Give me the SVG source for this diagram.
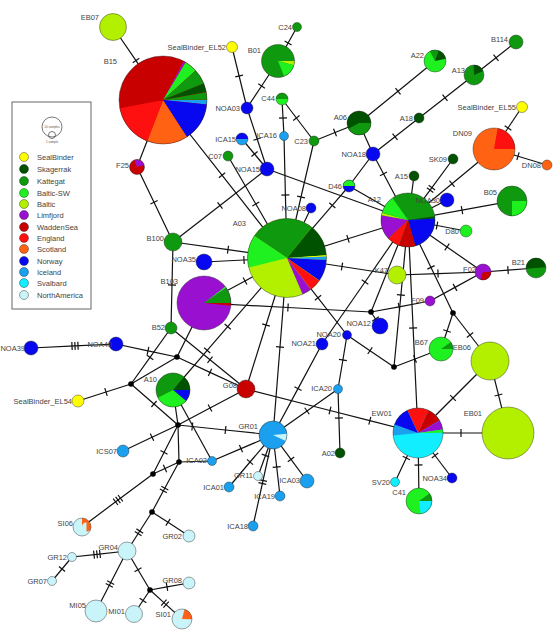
<svg xmlns="http://www.w3.org/2000/svg" width="560" height="640" viewBox="0 0 560 640">
<style>
.e{fill:none;stroke:#111;stroke-width:1.2}
.tk{fill:none;stroke:#111;stroke-width:1.2}
.o{stroke:#222;stroke-opacity:.6;stroke-width:.7}
.ol{fill:none;stroke:#222;stroke-opacity:.6;stroke-width:.7}
.sl{fill:none}
.j{fill:#000}
text{font-family:"Liberation Sans",Arial,sans-serif;font-size:7.5px;fill:#444}
.l{text-anchor:end}
.f-sb{fill:#ffff00}.f-sk{fill:#005200}.f-ka{fill:#0f990f}.f-bs{fill:#1ff01f}.f-ba{fill:#b2f000}.f-li{fill:#9a10d0}.f-wa{fill:#c80000}.f-en{fill:#ff1010}.f-sc{fill:#ff6212}.f-no{fill:#0808f0}.f-ic{fill:#1aa0ee}.f-sv{fill:#10eeff}.f-na{fill:#c8f4fa}
.s-sb{stroke:#ffff00}.s-sk{stroke:#005200}.s-ka{stroke:#0f990f}.s-bs{stroke:#1ff01f}.s-ba{stroke:#b2f000}.s-li{stroke:#9a10d0}.s-wa{stroke:#c80000}.s-en{stroke:#ff1010}.s-sc{stroke:#ff6212}.s-no{stroke:#0808f0}.s-ic{stroke:#1aa0ee}.s-sv{stroke:#10eeff}.s-na{stroke:#c8f4fa}
.box{fill:#fff;stroke:#666;stroke-width:1}
.sz{fill:none;stroke:#555;stroke-width:.8}
.tiny{font-size:3px;text-anchor:middle;fill:#555}
</style>
<defs>
<marker id="t1" markerUnits="userSpaceOnUse" markerWidth="12" markerHeight="12" refX="6" refY="6" orient="auto"><path class="tk" d="M6,2V10"/></marker>
<marker id="t2" markerUnits="userSpaceOnUse" markerWidth="12" markerHeight="12" refX="6" refY="6" orient="auto"><path class="tk" d="M4.5,2V10M7.5,2V10"/></marker>
<marker id="t3" markerUnits="userSpaceOnUse" markerWidth="12" markerHeight="12" refX="6" refY="6" orient="auto"><path class="tk" d="M3,2V10M6,2V10M9,2V10"/></marker>
</defs>
<rect width="560" height="640" fill="#fff"/>

<g id="connectors" class="e">
<path d="M113,27 L136,60.6 L163,100" marker-mid="url(#t1)"/>
<path d="M163,100 L137,167"/>
<path d="M137,167 L154,202.3 L173,242" marker-mid="url(#t1)"/>
<path d="M163,100 L222,175.2 L287,258" marker-mid="url(#t1)"/>
<path d="M232,47 L239.1,76 L247,108" marker-mid="url(#t1)"/>
<path d="M278,61 L261.6,86 L247,108" marker-mid="url(#t1)"/>
<path d="M297,27 L288.1,43 L278,61" marker-mid="url(#t1)"/>
<path d="M247,108 L257.2,139 L267,169" marker-mid="url(#t1)"/>
<path d="M242,139 L254.5,154 L267,169" marker-mid="url(#t1)"/>
<path d="M282,99 L283,118 L284,136" marker-mid="url(#t1)"/>
<path d="M284,136 L285.4,195 L287,258" marker-mid="url(#t1)"/>
<path d="M282,99 L296.4,118 L314,141" marker-mid="url(#t1)"/>
<path d="M314,141 L335,132.5 L359,123" marker-mid="url(#t1)"/>
<path d="M314,141 L301,197 L287,258" marker-mid="url(#t1)"/>
<path d="M228,156 L255.8,204 L287,258" marker-mid="url(#t1)"/>
<path d="M267,169 L220,205.5 L173,242" marker-mid="url(#t1)"/>
<path d="M267,169 L408,220"/>
<path d="M359,123 L373,154"/>
<path d="M435,61 L398,91.2 L359,123" marker-mid="url(#t1)"/>
<path d="M373,154 L395,136.8 L419,118" marker-mid="url(#t1)"/>
<path d="M419,118 L445,97.7 L474,75" marker-mid="url(#t1)"/>
<path d="M474,75 L496,57.8 L516,42" marker-mid="url(#t1)"/>
<path d="M373,154 L383.5,173.8 L408,220" marker-mid="url(#t1)"/>
<path d="M373,154 L349,186"/>
<path d="M349,186 L332.3,205.4 L287,258" marker-mid="url(#t1)"/>
<path d="M349,186 L408,220"/>
<path d="M311,208 L287,258"/>
<path d="M414,176 L408,220"/>
<path d="M453,159 L431,188.9 L408,220" marker-mid="url(#t2)"/>
<path d="M494,149 L452,183.7 L408,220" marker-mid="url(#t1)"/>
<path d="M522,107 L508,128 L494,149" marker-mid="url(#t1)"/>
<path d="M494,149 L518,156.2 L547,165" marker-mid="url(#t1)"/>
<path d="M447,200 L408,220"/>
<path d="M512,201 L462,210.1 L408,220" marker-mid="url(#t1)"/>
<path d="M466,231 L437,225.5 L408,220" marker-mid="url(#t1)"/>
<path d="M408,220 L447,247 L483,272" marker-mid="url(#t1)"/>
<path d="M287,258 L348,238.8 L408,220" marker-mid="url(#t1)"/>
<path d="M287,258 L342,266.5 L397,275" marker-mid="url(#t1)"/>
<path d="M397,275 L438,273.6 L483,272" marker-mid="url(#t1)"/>
<path d="M483,272 L508,270.1 L536,268" marker-mid="url(#t1)"/>
<path d="M483,272 L455,287.4 L430,301" marker-mid="url(#t1)"/>
<path d="M430,301 L399,306.8 L371,312" marker-mid="url(#t1)"/>
<path d="M204,303 L288,307.5 L371,312" marker-mid="url(#t1)"/>
<path d="M371,312 L375.5,319 L380,326" marker-mid="url(#t1)"/>
<path d="M408,220 L371,312"/>
<path d="M408,220 L400.9,295 L394,367" marker-mid="url(#t1)"/>
<path d="M408,220 L413.1,328 L418,433" marker-mid="url(#t1)"/>
<path d="M408,220 L431,267.4 L453,313" marker-mid="url(#t1)"/>
<path d="M394,367 L415,359 L441,349" marker-mid="url(#t1)"/>
<path d="M453,313 L447,331 L441,349" marker-mid="url(#t1)"/>
<path d="M453,313 L470,335 L490,361" marker-mid="url(#t1)"/>
<path d="M490,361 L498.5,395 L508,433" marker-mid="url(#t1)"/>
<path d="M418,433 L453,398 L490,361" marker-mid="url(#t1)"/>
<path d="M418,433 L461,433 L508,433" marker-mid="url(#t1)"/>
<path d="M418,433 L406.3,458 L395,482" marker-mid="url(#t1)"/>
<path d="M418,433 L418.5,465 L419,501" marker-mid="url(#t1)"/>
<path d="M418,433 L435,455.5 L452,478" marker-mid="url(#t1)"/>
<path d="M287,258 L318,297.8 L347,335" marker-mid="url(#t1)"/>
<path d="M347,335 L370,350.7 L394,367" marker-mid="url(#t1)"/>
<path d="M347,335 L342.9,360 L338,389" marker-mid="url(#t1)"/>
<path d="M338,389 L338.9,418 L340,453" marker-mid="url(#t1)"/>
<path d="M338,389 L307,411 L273,435" marker-mid="url(#t1)"/>
<path d="M322,344 L298,388.6 L273,435" marker-mid="url(#t1)"/>
<path d="M322,344 L365,282 L408,220" marker-mid="url(#t1)"/>
<path d="M246,389 L330,410.5 L369.8,420.7 L418,433" marker-mid="url(#t1)"/>
<path d="M287,258 L266,325 L246,389" marker-mid="url(#t1)"/>
<path d="M287,258 L280,347 L273,435" marker-mid="url(#t1)"/>
<path d="M287,258 L227.7,326.6 L207.2,350.4 L173,390" marker-mid="url(#t1)"/>
<path d="M173,242 L228,249.7 L287,258" marker-mid="url(#t1)"/>
<path d="M204,262 L244,260 L287,258" marker-mid="url(#t1)"/>
<path d="M204,303 L245,281 L287,258" marker-mid="url(#t1)"/>
<path d="M173,242 L172,285 L171,328" marker-mid="url(#t1)"/>
<path d="M171,328 L150,357.4 L131,384" marker-mid="url(#t1)"/>
<path d="M116,344 L148,350.8 L177,357" marker-mid="url(#t1)"/>
<path d="M31,348 L75,345.9 L116,344" marker-mid="url(#t3)"/>
<path d="M177,357 L131,384"/>
<path d="M177,357 L210,372.4 L246,389" marker-mid="url(#t1)"/>
<path d="M177,357 L204,303"/>
<path d="M171,328 L210,359.7 L246,389" marker-mid="url(#t1)"/>
<path d="M131,384 L106,392 L78,401" marker-mid="url(#t1)"/>
<path d="M131,384 L154,404 L178,425" marker-mid="url(#t1)"/>
<path d="M173,390 L178,425"/>
<path d="M178,425 L152,437.2 L123,451" marker-mid="url(#t1)"/>
<path d="M178,425 L192.3,426.5 L225.5,430 L273,435" marker-mid="url(#t1)"/>
<path d="M178,425 L210,408 L246,389" marker-mid="url(#t1)"/>
<path d="M178,425 L179,462"/>
<path d="M178,425 L164,452.4 L153,474" marker-mid="url(#t1)"/>
<path d="M153,474 L165,468.5 L179,462" marker-mid="url(#t1)"/>
<path d="M179,462 L212,461"/>
<path d="M212,461 L241,448.6 L273,435" marker-mid="url(#t1)"/>
<path d="M173,390 L212,461"/>
<path d="M153,474 L118,500 L82,527" marker-mid="url(#t3)"/>
<path d="M179,462 L164.1,489.5 L152,512" marker-mid="url(#t2)"/>
<path d="M152,512 L168,522.3 L189,536" marker-mid="url(#t1)"/>
<path d="M152,512 L139,532.3 L127,551" marker-mid="url(#t2)"/>
<path d="M127,551 L97,554.3 L72,557" marker-mid="url(#t3)"/>
<path d="M72,557 L62,569 L52,581" marker-mid="url(#t1)"/>
<path d="M127,551 L110,584 L96,611" marker-mid="url(#t2)"/>
<path d="M127,551 L138,569.7 L150,590" marker-mid="url(#t1)"/>
<path d="M150,590 L143,600.5 L134,614" marker-mid="url(#t1)"/>
<path d="M150,590 L167,586.9 L189,583" marker-mid="url(#t1)"/>
<path d="M150,590 L165,603.6 L182,619" marker-mid="url(#t2)"/>
<path d="M273,435 L250,462 L229,487" marker-mid="url(#t1)"/>
<path d="M273,435 L265.5,455.5 L258,476" marker-mid="url(#t1)"/>
<path d="M273,435 L276.7,467 L280,496" marker-mid="url(#t1)"/>
<path d="M273,435 L262.7,482 L253,526" marker-mid="url(#t2)"/>
<path d="M273,435 L291,459.4 L307,481" marker-mid="url(#t1)"/>
</g>

<g id="junctions">
<circle class="j" cx="371" cy="312" r="2.8"/>
<circle class="j" cx="394" cy="367" r="2.8"/>
<circle class="j" cx="453" cy="313" r="2.8"/>
<circle class="j" cx="177" cy="357" r="2.8"/>
<circle class="j" cx="131" cy="384" r="2.8"/>
<circle class="j" cx="178" cy="425" r="2.8"/>
<circle class="j" cx="179" cy="462" r="2.8"/>
<circle class="j" cx="153" cy="474" r="2.8"/>
<circle class="j" cx="152" cy="512" r="2.8"/>
<circle class="j" cx="150" cy="590" r="2.8"/>
</g>

<g id="legend">
<rect class="box" x="12" y="102" width="79" height="207"/>
<circle class="sz" cx="52" cy="127" r="10"/>
<circle class="sz" cx="52" cy="135" r="3.5"/>
<text class="tiny" x="52" y="128">10 samples</text>
<text class="tiny" x="52" y="143">1 sample</text>
<circle class="o f-sb" cx="24" cy="157" r="4.5"/><text x="37" y="160">SealBinder</text>
<circle class="o f-sk" cx="24" cy="169" r="4.5"/><text x="37" y="172">Skagerrak</text>
<circle class="o f-ka" cx="24" cy="181" r="4.5"/><text x="37" y="184">Kattegat</text>
<circle class="o f-bs" cx="24" cy="193" r="4.5"/><text x="37" y="196">Baltic-SW</text>
<circle class="o f-ba" cx="24" cy="204" r="4.5"/><text x="37" y="207">Baltic</text>
<circle class="o f-li" cx="24" cy="215" r="4.5"/><text x="37" y="218">Limfjord</text>
<circle class="o f-wa" cx="24" cy="227" r="4.5"/><text x="37" y="230">WaddenSea</text>
<circle class="o f-en" cx="24" cy="238" r="4.5"/><text x="37" y="241">England</text>
<circle class="o f-sc" cx="24" cy="249" r="4.5"/><text x="37" y="252">Scotland</text>
<circle class="o f-no" cx="24" cy="261" r="4.5"/><text x="37" y="264">Norway</text>
<circle class="o f-ic" cx="24" cy="272" r="4.5"/><text x="37" y="275">Iceland</text>
<circle class="o f-sv" cx="24" cy="283" r="4.5"/><text x="37" y="286">Svalbard</text>
<circle class="o f-na" cx="24" cy="295" r="4.5"/><text x="37" y="298">NorthAmerica</text>
</g>

<g id="B15">
<circle class="f-wa" cx="163" cy="100" r="44"/>
<circle class="sl s-li" cx="163" cy="100" r="22" stroke-width="44" pathLength="360" stroke-dasharray="3 360" transform="rotate(298 163 100)"/>
<circle class="sl s-bs" cx="163" cy="100" r="22" stroke-width="44" pathLength="360" stroke-dasharray="17 360" transform="rotate(301 163 100)"/>
<circle class="sl s-ka" cx="163" cy="100" r="22" stroke-width="44" pathLength="360" stroke-dasharray="20 360" transform="rotate(318 163 100)"/>
<circle class="sl s-sk" cx="163" cy="100" r="22" stroke-width="44" pathLength="360" stroke-dasharray="12 360" transform="rotate(338 163 100)"/>
<circle class="sl s-ka" cx="163" cy="100" r="22" stroke-width="44" pathLength="360" stroke-dasharray="10 360" transform="rotate(350 163 100)"/>
<circle class="sl s-ic" cx="163" cy="100" r="22" stroke-width="44" pathLength="360" stroke-dasharray="6 360"/>
<circle class="sl s-no" cx="163" cy="100" r="22" stroke-width="44" pathLength="360" stroke-dasharray="51 360" transform="rotate(6 163 100)"/>
<circle class="sl s-sc" cx="163" cy="100" r="22" stroke-width="44" pathLength="360" stroke-dasharray="54 360" transform="rotate(57 163 100)"/>
<circle class="sl s-en" cx="163" cy="100" r="22" stroke-width="44" pathLength="360" stroke-dasharray="58 360" transform="rotate(111 163 100)"/>
<circle class="ol" cx="163" cy="100" r="44"/>
<text class="l" x="117" y="64">B15</text>
</g>

<g id="A03">
<circle class="f-ba" cx="287" cy="258" r="39.5"/>
<circle class="sl s-ka" cx="287" cy="258" r="19.75" stroke-width="39.5" pathLength="360" stroke-dasharray="95 360" transform="rotate(214 287 258)"/>
<circle class="sl s-sk" cx="287" cy="258" r="19.75" stroke-width="39.5" pathLength="360" stroke-dasharray="47 360" transform="rotate(309 287 258)"/>
<circle class="sl s-sb" cx="287" cy="258" r="19.75" stroke-width="39.5" pathLength="360" stroke-dasharray="2 360" transform="rotate(356 287 258)"/>
<circle class="sl s-ic" cx="287" cy="258" r="19.75" stroke-width="39.5" pathLength="360" stroke-dasharray="5 360" transform="rotate(358 287 258)"/>
<circle class="sl s-no" cx="287" cy="258" r="19.75" stroke-width="39.5" pathLength="360" stroke-dasharray="32 360" transform="rotate(3 287 258)"/>
<circle class="sl s-en" cx="287" cy="258" r="19.75" stroke-width="39.5" pathLength="360" stroke-dasharray="18 360" transform="rotate(35 287 258)"/>
<circle class="sl s-li" cx="287" cy="258" r="19.75" stroke-width="39.5" pathLength="360" stroke-dasharray="14 360" transform="rotate(53 287 258)"/>
<circle class="sl s-bs" cx="287" cy="258" r="19.75" stroke-width="39.5" pathLength="360" stroke-dasharray="48 360" transform="rotate(166 287 258)"/>
<circle class="ol" cx="287" cy="258" r="39.5"/>
<text class="l" x="246" y="226">A03</text>
</g>

<g id="A12">
<circle class="f-ka" cx="408" cy="220" r="27"/>
<circle class="sl s-li" cx="408" cy="220" r="13.5" stroke-width="27" pathLength="360" stroke-dasharray="53 360" transform="rotate(137 408 220)"/>
<circle class="sl s-ba" cx="408" cy="220" r="13.5" stroke-width="27" pathLength="360" stroke-dasharray="6 360" transform="rotate(190 408 220)"/>
<circle class="sl s-bs" cx="408" cy="220" r="13.5" stroke-width="27" pathLength="360" stroke-dasharray="39 360" transform="rotate(196 408 220)"/>
<circle class="sl s-sk" cx="408" cy="220" r="13.5" stroke-width="27" pathLength="360" stroke-dasharray="5 360" transform="rotate(352 408 220)"/>
<circle class="sl s-no" cx="408" cy="220" r="13.5" stroke-width="27" pathLength="360" stroke-dasharray="77 360" transform="rotate(357 408 220)"/>
<circle class="sl s-wa" cx="408" cy="220" r="13.5" stroke-width="27" pathLength="360" stroke-dasharray="36 360" transform="rotate(74 408 220)"/>
<circle class="sl s-en" cx="408" cy="220" r="13.5" stroke-width="27" pathLength="360" stroke-dasharray="27 360" transform="rotate(110 408 220)"/>
<circle class="ol" cx="408" cy="220" r="27"/>
<text class="l" x="381" y="202">A12</text>
</g>

<g id="B103">
<circle class="f-li" cx="204" cy="303" r="27"/>
<circle class="sl s-bs" cx="204" cy="303" r="13.5" stroke-width="27" pathLength="360" stroke-dasharray="4 360" transform="rotate(322 204 303)"/>
<circle class="sl s-ka" cx="204" cy="303" r="13.5" stroke-width="27" pathLength="360" stroke-dasharray="34 360" transform="rotate(326 204 303)"/>
<circle class="sl s-wa" cx="204" cy="303" r="13.5" stroke-width="27" pathLength="360" stroke-dasharray="6 360"/>
<circle class="ol" cx="204" cy="303" r="27"/>
<text class="l" x="178" y="284">B103</text>
</g>

<g id="EW01">
<circle class="f-sv" cx="418" cy="433" r="25"/>
<circle class="sl s-ic" cx="418" cy="433" r="12.5" stroke-width="25" pathLength="360" stroke-dasharray="26 360" transform="rotate(174 418 433)"/>
<circle class="sl s-no" cx="418" cy="433" r="12.5" stroke-width="25" pathLength="360" stroke-dasharray="45 360" transform="rotate(200 418 433)"/>
<circle class="sl s-en" cx="418" cy="433" r="12.5" stroke-width="25" pathLength="360" stroke-dasharray="50 360" transform="rotate(245 418 433)"/>
<circle class="sl s-wa" cx="418" cy="433" r="12.5" stroke-width="25" pathLength="360" stroke-dasharray="35 360" transform="rotate(295 418 433)"/>
<circle class="sl s-li" cx="418" cy="433" r="12.5" stroke-width="25" pathLength="360" stroke-dasharray="22 360" transform="rotate(330 418 433)"/>
<circle class="sl s-bs" cx="418" cy="433" r="12.5" stroke-width="25" pathLength="360" stroke-dasharray="8 360" transform="rotate(352 418 433)"/>
<circle class="ol" cx="418" cy="433" r="25"/>
<text class="l" x="392" y="416">EW01</text>
</g>

<g id="A10">
<circle class="f-ka" cx="173" cy="390" r="17"/>
<circle class="sl s-sk" cx="173" cy="390" r="8.5" stroke-width="17" pathLength="360" stroke-dasharray="50 360" transform="rotate(310 173 390)"/>
<circle class="sl s-no" cx="173" cy="390" r="8.5" stroke-width="17" pathLength="360" stroke-dasharray="40 360"/>
<circle class="sl s-bs" cx="173" cy="390" r="8.5" stroke-width="17" pathLength="360" stroke-dasharray="113 360" transform="rotate(40 173 390)"/>
<circle class="ol" cx="173" cy="390" r="17"/>
<text class="l" x="157" y="382">A10</text>
</g>

<g id="B01">
<circle class="f-ka" cx="278" cy="61" r="16.5"/>
<circle class="sl s-ba" cx="278" cy="61" r="8.25" stroke-width="16.5" pathLength="360" stroke-dasharray="15 360"/>
<circle class="sl s-bs" cx="278" cy="61" r="8.25" stroke-width="16.5" pathLength="360" stroke-dasharray="53 360" transform="rotate(15 278 61)"/>
<circle class="ol" cx="278" cy="61" r="16.5"/>
<text class="l" x="261" y="53">B01</text>
</g>

<g id="A06">
<circle class="f-sk" cx="359" cy="123" r="12"/>
<circle class="sl s-ka" cx="359" cy="123" r="6" stroke-width="12" pathLength="360" stroke-dasharray="150 360"/>
<circle class="ol" cx="359" cy="123" r="12"/>
<text class="l" x="347" y="120">A06</text>
</g>

<g id="A22">
<circle class="f-bs" cx="435" cy="61" r="11"/>
<circle class="sl s-ka" cx="435" cy="61" r="5.5" stroke-width="11" pathLength="360" stroke-dasharray="46 360" transform="rotate(242 435 61)"/>
<circle class="sl s-sk" cx="435" cy="61" r="5.5" stroke-width="11" pathLength="360" stroke-dasharray="60 360" transform="rotate(288 435 61)"/>
<circle class="ol" cx="435" cy="61" r="11"/>
<text class="l" x="424" y="58">A22</text>
</g>

<g id="A13">
<circle class="f-ka" cx="474" cy="75" r="10"/>
<circle class="sl s-sk" cx="474" cy="75" r="5" stroke-width="10" pathLength="360" stroke-dasharray="67 360" transform="rotate(268 474 75)"/>
<circle class="ol" cx="474" cy="75" r="10"/>
<text class="l" x="465" y="73">A13</text>
</g>

<g id="DN09">
<circle class="f-sc" cx="494" cy="149" r="21"/>
<circle class="sl s-en" cx="494" cy="149" r="10.5" stroke-width="21" pathLength="360" stroke-dasharray="80 360" transform="rotate(280 494 149)"/>
<circle class="ol" cx="494" cy="149" r="21"/>
<text class="l" x="472" y="136">DN09</text>
</g>

<g id="B05">
<circle class="f-ka" cx="512" cy="201" r="15"/>
<circle class="sl s-bs" cx="512" cy="201" r="7.5" stroke-width="15" pathLength="360" stroke-dasharray="90 360"/>
<circle class="ol" cx="512" cy="201" r="15"/>
<text class="l" x="497" y="195">B05</text>
</g>

<g id="F25">
<circle class="f-wa" cx="137" cy="167" r="7.5"/>
<circle class="sl s-li" cx="137" cy="167" r="3.75" stroke-width="7.5" pathLength="360" stroke-dasharray="95 360" transform="rotate(250 137 167)"/>
<circle class="ol" cx="137" cy="167" r="7.5"/>
<text class="l" x="129" y="168">F25</text>
</g>

<g id="C44">
<circle class="f-bs" cx="282" cy="99" r="6"/>
<circle class="sl s-ka" cx="282" cy="99" r="3" stroke-width="6" pathLength="360" stroke-dasharray="180 360" transform="rotate(180 282 99)"/>
<circle class="ol" cx="282" cy="99" r="6"/>
<text class="l" x="275" y="101">C44</text>
</g>

<g id="ICA15">
<circle class="f-ic" cx="242" cy="139" r="6"/>
<circle class="sl s-no" cx="242" cy="139" r="3" stroke-width="6" pathLength="360" stroke-dasharray="180 360" transform="rotate(180 242 139)"/>
<circle class="ol" cx="242" cy="139" r="6"/>
<text class="l" x="236" y="142">ICA15</text>
</g>

<g id="D46">
<circle class="f-no" cx="349" cy="186" r="6"/>
<circle class="sl s-bs" cx="349" cy="186" r="3" stroke-width="6" pathLength="360" stroke-dasharray="180 360" transform="rotate(180 349 186)"/>
<circle class="ol" cx="349" cy="186" r="6"/>
<text class="l" x="342" y="189">D46</text>
</g>

<g id="F02">
<circle class="f-li" cx="483" cy="272" r="8"/>
<circle class="sl s-wa" cx="483" cy="272" r="4" stroke-width="8" pathLength="360" stroke-dasharray="110 360"/>
<circle class="ol" cx="483" cy="272" r="8"/>
<text class="l" x="476" y="272">F02</text>
</g>

<g id="B21">
<circle class="f-ka" cx="536" cy="268" r="10"/>
<circle class="sl s-sk" cx="536" cy="268" r="5" stroke-width="10" pathLength="360" stroke-dasharray="180 360" transform="rotate(175 536 268)"/>
<circle class="ol" cx="536" cy="268" r="10"/>
<text class="l" x="525" y="265">B21</text>
</g>

<g id="B67">
<circle class="f-bs" cx="441" cy="349" r="12"/>
<circle class="sl s-ka" cx="441" cy="349" r="6" stroke-width="12" pathLength="360" stroke-dasharray="35 360" transform="rotate(325 441 349)"/>
<circle class="ol" cx="441" cy="349" r="12"/>
<text class="l" x="428" y="345">B67</text>
</g>

<g id="C41">
<circle class="f-bs" cx="419" cy="501" r="13"/>
<circle class="sl s-ka" cx="419" cy="501" r="6.5" stroke-width="13" pathLength="360" stroke-dasharray="35 360" transform="rotate(325 419 501)"/>
<circle class="sl s-sv" cx="419" cy="501" r="6.5" stroke-width="13" pathLength="360" stroke-dasharray="82 360"/>
<circle class="ol" cx="419" cy="501" r="13"/>
<text class="l" x="406" y="495">C41</text>
</g>

<g id="GR01">
<circle class="f-ic" cx="273" cy="435" r="14"/>
<circle class="sl s-na" cx="273" cy="435" r="7" stroke-width="14" pathLength="360" stroke-dasharray="30 360" transform="rotate(355 273 435)"/>
<circle class="ol" cx="273" cy="435" r="14"/>
<text class="l" x="258" y="429">GR01</text>
</g>

<g id="SI06">
<circle class="f-na" cx="82" cy="527" r="9"/>
<circle class="sl s-sc" cx="82" cy="527" r="4.5" stroke-width="9" pathLength="360" stroke-dasharray="90 360" transform="rotate(270 82 527)"/>
<circle class="ol" cx="82" cy="527" r="9"/>
<text class="l" x="73" y="526">SI06</text>
</g>

<g id="SI01">
<circle class="f-na" cx="182" cy="619" r="10"/>
<circle class="sl s-sc" cx="182" cy="619" r="5" stroke-width="10" pathLength="360" stroke-dasharray="75 360" transform="rotate(285 182 619)"/>
<circle class="ol" cx="182" cy="619" r="10"/>
<text class="l" x="171" y="617">SI01</text>
</g>

<g id="EB07"><circle class="o f-ba" cx="113" cy="27" r="13.5"/><text class="l" x="99" y="20">EB07</text></g>
<g id="SealBinder_EL52"><circle class="o f-sb" cx="232" cy="47" r="5.5"/><text class="l" x="226" y="50">SealBinder_EL52</text></g>
<g id="C24"><circle class="o f-ka" cx="297" cy="27" r="4.5"/><text class="l" x="292" y="30">C24</text></g>
<g id="NOA03"><circle class="o f-no" cx="247" cy="108" r="6"/><text class="l" x="240" y="111">NOA03</text></g>
<g id="ICA16"><circle class="o f-ic" cx="284" cy="136" r="4.5"/><text class="l" x="277" y="138">ICA16</text></g>
<g id="C07"><circle class="o f-ka" cx="228" cy="156" r="5"/><text class="l" x="222" y="159">C07</text></g>
<g id="NOA15"><circle class="o f-no" cx="267" cy="169" r="7"/><text class="l" x="260" y="172">NOA15</text></g>
<g id="C23"><circle class="o f-ka" cx="314" cy="141" r="5"/><text class="l" x="308" y="144">C23</text></g>
<g id="NOA18"><circle class="o f-no" cx="373" cy="154" r="7"/><text class="l" x="366" y="157">NOA18</text></g>
<g id="NOA08"><circle class="o f-no" cx="311" cy="208" r="5"/><text class="l" x="306" y="211">NOA08</text></g>
<g id="B114"><circle class="o f-ka" cx="516" cy="42" r="7"/><text class="l" x="508" y="42">B114</text></g>
<g id="SealBinder_EL55"><circle class="o f-sb" cx="522" cy="107" r="5.5"/><text class="l" x="516" y="110">SealBinder_EL55</text></g>
<g id="A18"><circle class="o f-sk" cx="419" cy="118" r="5"/><text class="l" x="413" y="121">A18</text></g>
<g id="DN08"><circle class="o f-sc" cx="547" cy="165" r="5"/><text class="l" x="541" y="168">DN08</text></g>
<g id="SK09"><circle class="o f-sk" cx="453" cy="159" r="5"/><text class="l" x="447" y="162">SK09</text></g>
<g id="A15"><circle class="o f-sk" cx="414" cy="176" r="5"/><text class="l" x="408" y="179">A15</text></g>
<g id="NOA30"><circle class="o f-no" cx="447" cy="200" r="7"/><text class="l" x="440" y="203">NOA30</text></g>
<g id="D80"><circle class="o f-bs" cx="466" cy="231" r="6"/><text class="l" x="459" y="234">D80</text></g>
<g id="NOA35"><circle class="o f-no" cx="204" cy="262" r="8"/><text class="l" x="196" y="262">NOA35</text></g>
<g id="B100"><circle class="o f-ka" cx="173" cy="242" r="9"/><text class="l" x="164" y="241">B100</text></g>
<g id="B52"><circle class="o f-ka" cx="171" cy="328" r="6"/><text class="l" x="165" y="330">B52</text></g>
<g id="K47"><circle class="o f-ba" cx="397" cy="275" r="9"/><text class="l" x="388" y="273">K47</text></g>
<g id="F09"><circle class="o f-li" cx="430" cy="301" r="5"/><text class="l" x="424" y="303">F09</text></g>
<g id="NOA12"><circle class="o f-no" cx="380" cy="326" r="8"/><text class="l" x="371" y="326">NOA12</text></g>
<g id="EB06"><circle class="o f-ba" cx="490" cy="361" r="19"/><text class="l" x="471" y="350">EB06</text></g>
<g id="EB01"><circle class="o f-ba" cx="508" cy="433" r="26"/><text class="l" x="482" y="416">EB01</text></g>
<g id="SV20"><circle class="o f-sv" cx="395" cy="482" r="4.5"/><text class="l" x="390" y="485">SV20</text></g>
<g id="NOA34"><circle class="o f-no" cx="452" cy="478" r="5"/><text class="l" x="447" y="481">NOA34</text></g>
<g id="NOA21"><circle class="o f-no" cx="322" cy="344" r="6"/><text class="l" x="316" y="346">NOA21</text></g>
<g id="NOA20"><circle class="o f-no" cx="347" cy="335" r="4.5"/><text class="l" x="341" y="337">NOA20</text></g>
<g id="ICA20"><circle class="o f-ic" cx="338" cy="389" r="4.5"/><text class="l" x="332" y="391">ICA20</text></g>
<g id="G08"><circle class="o f-wa" cx="246" cy="389" r="9"/><text class="l" x="237" y="388">G08</text></g>
<g id="ICA02"><circle class="o f-ic" cx="212" cy="461" r="4.5"/><text class="l" x="207" y="463">ICA02</text></g>
<g id="A02"><circle class="o f-sk" cx="340" cy="453" r="5"/><text class="l" x="335" y="456">A02</text></g>
<g id="NOA40"><circle class="o f-no" cx="116" cy="344" r="7"/><text class="l" x="112" y="347">NOA40</text></g>
<g id="NOA39"><circle class="o f-no" cx="31" cy="348" r="7"/><text class="l" x="25" y="351">NOA39</text></g>
<g id="SealBinder_EL54"><circle class="o f-sb" cx="78" cy="401" r="6"/><text class="l" x="72" y="404">SealBinder_EL54</text></g>
<g id="ICS07"><circle class="o f-ic" cx="123" cy="451" r="6"/><text class="l" x="117" y="454">ICS07</text></g>
<g id="GR04"><circle class="o f-na" cx="127" cy="551" r="9"/><text class="l" x="118" y="550">GR04</text></g>
<g id="GR12"><circle class="o f-na" cx="72" cy="557" r="4.5"/><text class="l" x="67" y="560">GR12</text></g>
<g id="GR07"><circle class="o f-na" cx="52" cy="581" r="4.5"/><text class="l" x="47" y="584">GR07</text></g>
<g id="MI05"><circle class="o f-na" cx="96" cy="611" r="11"/><text class="l" x="86" y="608">MI05</text></g>
<g id="MI01"><circle class="o f-na" cx="134" cy="614" r="8.5"/><text class="l" x="125" y="614">MI01</text></g>
<g id="GR02"><circle class="o f-na" cx="189" cy="536" r="6"/><text class="l" x="182" y="539">GR02</text></g>
<g id="GR08"><circle class="o f-na" cx="189" cy="583" r="6"/><text class="l" x="182" y="583">GR08</text></g>
<g id="ICA01"><circle class="o f-ic" cx="229" cy="487" r="5"/><text class="l" x="224" y="490">ICA01</text></g>
<g id="GR11"><circle class="o f-na" cx="258" cy="476" r="4.5"/><text class="l" x="253" y="478">GR11</text></g>
<g id="ICA19"><circle class="o f-ic" cx="280" cy="496" r="5"/><text class="l" x="275" y="499">ICA19</text></g>
<g id="ICA03"><circle class="o f-ic" cx="307" cy="481" r="7"/><text class="l" x="300" y="483">ICA03</text></g>
<g id="ICA18"><circle class="o f-ic" cx="253" cy="526" r="5"/><text class="l" x="248" y="529">ICA18</text></g>
</svg>
